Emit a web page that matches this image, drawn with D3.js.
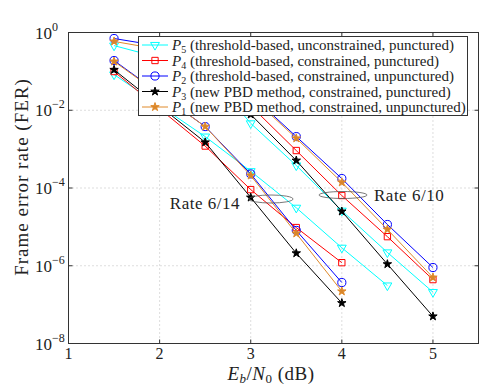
<!DOCTYPE html>
<html>
<head>
<meta charset="utf-8">
<script src="https://cdn.jsdelivr.net/npm/d3@7"></script>
<style>
body { margin: 0; background: #fff; }
text { font-family: "Liberation Serif", "DejaVu Serif", serif; fill: #222; }
</style>
</head>
<body>
<div id="chart"></div>
<script>
// Eb/N0 points (dB)
var ebno14 = [1.5, 2.5, 3, 3.5, 4];
var ebno14P5 = [1.5, 2.5, 3, 3.5, 4, 4.5];
var ebno10 = [1.5, 2.5, 3, 3.5, 4, 4.5, 5];
var ebno10PB = [2.5, 3, 3.5, 4, 4.5, 5];

// rate 6/14
var p1_14 = [1.8e-1, 3.8e-3, 2.1e-4, 6.8e-6, 2.2e-7];
var p2_14 = [1.9e-1, 3.8e-3, 2.3e-4, 8.1e-6, 3.7e-7];
var p3_14 = [1.1e-1, 1.5e-3, 5.7e-5, 2.1e-6, 1.1e-7];
var p4_14 = [9.9e-2, 1.2e-3, 9.1e-5, 9.6e-6, 1.2e-6];
var p5_14 = [8.3e-2, 2.1e-3, 2.7e-4, 3.1e-5, 2.9e-6, 3.1e-7];

// rate 6/10
var p1_10 = [5.9e-1, 2.3e-1, 2.3e-2, 1.9e-3, 1.4e-4, 8.6e-6, 5.0e-7];
var p2_10 = [7.0e-1, 2.9e-1, 2.5e-2, 2.1e-3, 1.75e-4, 1.15e-5, 9.0e-7];
var p3_10 = [1.2e-1, 7.8e-3, 5.1e-4, 2.5e-5, 1.1e-6, 5.0e-8];
var p4_10 = [1.9e-1, 1.3e-2, 9.2e-4, 6.4e-5, 5.6e-6, 4.4e-7];
var p5_10 = [4.6e-1, 1.1e-1, 4.6e-3, 3.8e-4, 2.6e-5, 2.2e-6, 2.1e-7];

var xTicks = [1, 2, 3, 4, 5];
var yTickExp = [0, -2, -4, -6, -8];

var legendNames = ["5", "4", "2", "3", "1"];
var legendText = [
  " (threshold-based, unconstrained, punctured)",
  " (threshold-based, constrained, punctured)",
  " (threshold-based, constrained, unpunctured)",
  " (new PBD method, constrained, punctured)",
  " (new PBD method, constrained, unpunctured)"
];

var styles = {
  P5: {color: "#00ffff", fill: "none", sym: "tri"},
  P4: {color: "#ff0000", fill: "none", sym: "sq"},
  P2: {color: "#0000ff", fill: "none", sym: "circ"},
  P3: {color: "#000000", fill: "#000000", sym: "star"},
  P1: {color: "#e08a2b", fill: "#d9862a", sym: "star"}
};

var series = [
  {key: "P5", x: ebno14P5, y: p5_14}, {key: "P5", x: ebno10, y: p5_10},
  {key: "P4", x: ebno14, y: p4_14}, {key: "P4", x: ebno10PB, y: p4_10},
  {key: "P2", x: ebno14, y: p2_14}, {key: "P2", x: ebno10, y: p2_10},
  {key: "P3", x: ebno14, y: p3_14}, {key: "P3", x: ebno10PB, y: p3_10},
  {key: "P1", x: ebno14, y: p1_14}, {key: "P1", x: ebno10, y: p1_10}
];

var W = 485, H = 388;
var mL = 68.5, mR = 478.5, mT = 32.5, mB = 343.5;

var svg = d3.select("#chart").append("svg")
  .attr("width", W).attr("height", H);

var x = d3.scaleLinear().domain([1, 5.5]).range([mL, mR]);
var y = d3.scaleLog().domain([1e-8, 1]).range([mB, mT]);

// grid
var grid = svg.append("g");
grid.selectAll("line.gx").data(xTicks.slice(1)).enter().append("line")
  .attr("x1", function(d) { return x(d); }).attr("x2", function(d) { return x(d); })
  .attr("y1", mT).attr("y2", mB)
  .attr("stroke", "#bbb").attr("stroke-dasharray", "1,3");
grid.selectAll("line.gy").data(yTickExp.slice(1, 4)).enter().append("line")
  .attr("y1", function(d) { return y(Math.pow(10, d)); }).attr("y2", function(d) { return y(Math.pow(10, d)); })
  .attr("x1", mL).attr("x2", mR)
  .attr("stroke", "#bbb").attr("stroke-dasharray", "1,3");

function symPath(sym) {
  if (sym == "tri") return d3.symbol().type(d3.symbolTriangle).size(34)();
  if (sym == "sq") return d3.symbol().type(d3.symbolSquare).size(40)();
  if (sym == "circ") return d3.symbol().type(d3.symbolCircle).size(52)();
  return d3.symbol().type(d3.symbolStar).size(22)();
}

function drawMarker(g, key, px, py) {
  var s = styles[key];
  g.append("path")
    .attr("d", symPath(s.sym))
    .attr("transform", "translate(" + px + "," + py + ")" + (s.sym == "tri" ? " rotate(180)" : ""))
    .attr("fill", s.fill)
    .attr("stroke", s.color)
    .attr("stroke-width", 1);
}

var line = d3.line()
  .x(function(d) { return x(d[0]); })
  .y(function(d) { return y(d[1]); });

var plot = svg.append("g");
series.forEach(function(s) {
  var pts = s.x.map(function(v, i) { return [v, s.y[i]]; });
  plot.append("path").datum(pts)
    .attr("d", line)
    .attr("fill", "none")
    .attr("stroke", styles[s.key].color)
    .attr("stroke-width", 1);
  pts.forEach(function(p) { drawMarker(plot, s.key, x(p[0]), y(p[1])); });
});

// rate ellipses and labels
svg.append("ellipse").attr("cx", 271).attr("cy", 199).attr("rx", 22).attr("ry", 4)
  .attr("fill", "none").attr("stroke", "#555").attr("stroke-width", 0.8);
svg.append("text").attr("x", 240).attr("y", 209).attr("text-anchor", "end")
  .style("font-size", "17px").style("letter-spacing", "0.5px").text("Rate 6/14");
svg.append("ellipse").attr("cx", 343).attr("cy", 195).attr("rx", 24).attr("ry", 3.5)
  .attr("fill", "none").attr("stroke", "#555").attr("stroke-width", 0.8);
svg.append("text").attr("x", 374).attr("y", 201)
  .style("font-size", "17px").style("letter-spacing", "0.5px").text("Rate 6/10");

// frame and ticks
svg.append("rect").attr("x", mL).attr("y", mT)
  .attr("width", mR - mL).attr("height", mB - mT)
  .attr("fill", "none").attr("stroke", "#333").attr("stroke-width", 1);

xTicks.forEach(function(t) {
  svg.append("line").attr("x1", x(t)).attr("x2", x(t)).attr("y1", mB).attr("y2", mB - 4).attr("stroke", "#333");
  svg.append("line").attr("x1", x(t)).attr("x2", x(t)).attr("y1", mT).attr("y2", mT + 4).attr("stroke", "#333");
  svg.append("text").attr("x", x(t)).attr("y", 359).attr("text-anchor", "middle")
    .style("font-size", "16px").text(t);
});

yTickExp.forEach(function(e) {
  var py = y(Math.pow(10, e));
  svg.append("line").attr("x1", mL).attr("x2", mL + 4).attr("y1", py).attr("y2", py).attr("stroke", "#333");
  svg.append("line").attr("x1", mR).attr("x2", mR - 4).attr("y1", py).attr("y2", py).attr("stroke", "#333");
  var t = svg.append("text").attr("x", 35).attr("y", py + 6).style("font-size", "17px");
  t.append("tspan").text("10");
  t.append("tspan").attr("dy", -8).style("font-size", "12px").text(e == 0 ? "0" : "\u2212" + (-e));
});

// axis titles
var xl = svg.append("text").attr("x", 271).attr("y", 380).attr("text-anchor", "middle")
  .style("font-size", "19px").style("letter-spacing", "0.5px");
xl.append("tspan").style("font-style", "italic").text("E");
xl.append("tspan").attr("dy", 3).style("font-size", "13px").style("font-style", "italic").text("b");
xl.append("tspan").attr("dy", -3).text("/");
xl.append("tspan").style("font-style", "italic").text("N");
xl.append("tspan").attr("dy", 3).style("font-size", "13px").text("0");
xl.append("tspan").attr("dy", -3).text(" (dB)");

svg.append("text").attr("transform", "translate(28,177) rotate(-90)")
  .attr("text-anchor", "middle").style("font-size", "19px").style("letter-spacing", "1px")
  .text("Frame error rate (FER)");

// legend
var lg = svg.append("g");
lg.append("rect").attr("x", 138.5).attr("y", 36.5).attr("width", 329).attr("height", 79)
  .attr("fill", "#fff").attr("stroke", "#333").attr("stroke-width", 1);
legendNames.forEach(function(n, i) {
  var key = "P" + n;
  var ly = 45 + i * 15.5;
  lg.append("line").attr("x1", 142).attr("x2", 168).attr("y1", ly).attr("y2", ly)
    .attr("stroke", styles[key].color).attr("stroke-width", 1);
  drawMarker(lg, key, 155, ly);
  var t = lg.append("text").attr("x", 172).attr("y", ly + 5).style("font-size", "15px");
  t.append("tspan").style("font-style", "italic").text("P");
  t.append("tspan").attr("dy", 3).style("font-size", "10px").text(n);
  t.append("tspan").attr("dy", -3).text(legendText[i]);
});
</script>
</body>
</html>
